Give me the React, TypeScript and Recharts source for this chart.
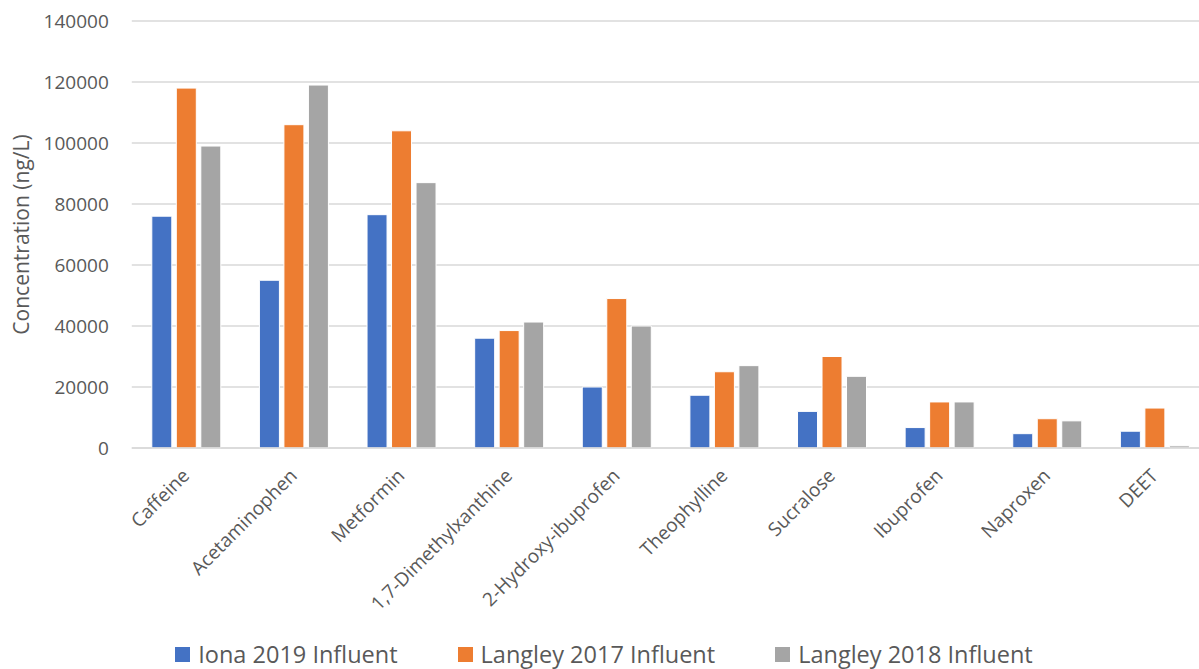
import { Bar, BarChart, CartesianGrid, Legend, XAxis, YAxis } from "recharts";

const compounds = [
  "Caffeine",
  "Acetaminophen",
  "Metformin",
  "1,7-Dimethylxanthine",
  "2-Hydroxy-ibuprofen",
  "Theophylline",
  "Sucralose",
  "Ibuprofen",
  "Naproxen",
  "DEET",
];

// concentrations in ng/L
const iona2019 = [76000, 55000, 76500, 36000, 20000, 17300, 12000, 6700, 4700, 5500];
const langley2017 = [118000, 106000, 104000, 38500, 49000, 25000, 30000, 15100, 9600, 13100];
const langley2018 = [99000, 119000, 87000, 41300, 40000, 27000, 23500, 15100, 8900, 700];

const yTicks = [0, 20000, 40000, 60000, 80000, 100000, 120000, 140000];

const series = [
  { key: "iona2019", name: "Iona 2019 Influent", color: "#4472C4" },
  { key: "langley2017", name: "Langley 2017 Influent", color: "#ED7D31" },
  { key: "langley2018", name: "Langley 2018 Influent", color: "#A5A5A5" },
];

const data = compounds.map((name, i) => ({
  name,
  iona2019: iona2019[i],
  langley2017: langley2017[i],
  langley2018: langley2018[i],
}));

const TEXT = "#595959";
const FONT = "'Open Sans', sans-serif";

function CompoundTick({ x, y, payload }: any) {
  const tx = x + 5;
  const ty = y + 29;
  return (
    <text
      x={tx}
      y={ty}
      transform={`rotate(-45 ${tx} ${ty})`}
      textAnchor="end"
      fill={TEXT}
      fontSize={19}
      fontFamily={FONT}
    >
      {payload.value}
    </text>
  );
}

function SeriesLegend() {
  return (
    <div
      style={{
        display: "flex",
        justifyContent: "center",
        alignItems: "center",
        gap: 60,
        height: 28,
        lineHeight: "28px",
        fontFamily: FONT,
        fontSize: 23.5,
        color: TEXT,
        whiteSpace: "nowrap",
      }}
    >
      {series.map((s) => (
        <div key={s.key} style={{ display: "flex", alignItems: "center" }}>
          <span
            style={{
              display: "inline-block",
              width: 15,
              height: 15,
              background: s.color,
              marginRight: 8,
            }}
          />
          <span>{s.name}</span>
        </div>
      ))}
    </div>
  );
}

export default function App() {
  return (
    <div
      style={{
        position: "absolute",
        left: 0,
        top: 0,
        width: 1199,
        height: 669,
        overflow: "hidden",
        background: "#fff",
      }}
    >
      <BarChart
        width={1208}
        height={669}
        data={data}
        margin={{ top: 21, right: 0, left: 0, bottom: 1 }}
        barCategoryGap={20}
        barGap={4.5}
        style={{ fontFamily: FONT }}
      >
        <CartesianGrid vertical={false} stroke="#d9d9d9" strokeWidth={1.4} />
        <XAxis
          dataKey="name"
          interval={0}
          height={192}
          tickLine={false}
          tickSize={0}
          tickMargin={0}
          axisLine={{ stroke: "#d9d9d9", strokeWidth: 1.4 }}
          tick={<CompoundTick />}
        />
        <YAxis
          width={131.8}
          domain={[0, 140000]}
          ticks={yTicks}
          interval={0}
          axisLine={false}
          tickLine={false}
          tickSize={0}
          tickMargin={23}
          tick={{ fill: TEXT, fontSize: 19, fontFamily: FONT }}
          label={{
            value: "Concentration (ng/L)",
            angle: -90,
            position: "insideLeft",
            offset: 22,
            style: { textAnchor: "middle", fill: TEXT, fontSize: 21, fontFamily: FONT },
          }}
        />
        <Legend verticalAlign="bottom" content={<SeriesLegend />} />
        {series.map((s) => (
          <Bar
            key={s.key}
            dataKey={s.key}
            name={s.name}
            fill={s.color}
            stroke="#fff"
            strokeWidth={1}
            isAnimationActive={false}
          />
        ))}
      </BarChart>
    </div>
  );
}
